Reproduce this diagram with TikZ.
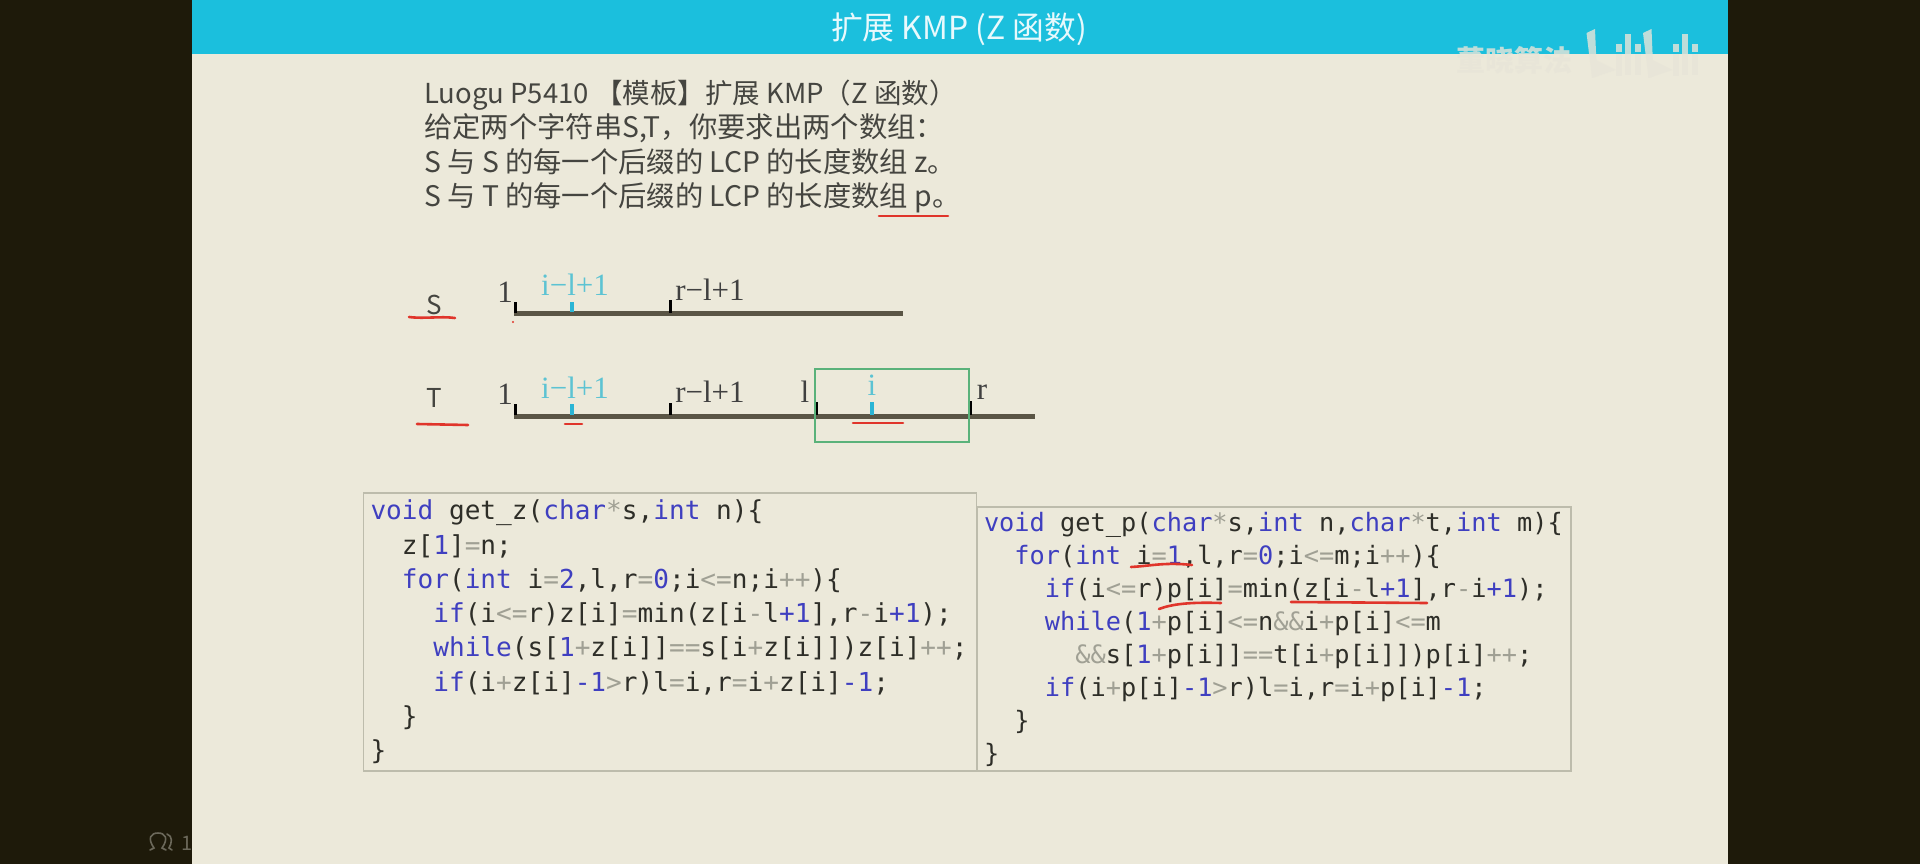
\documentclass[tikz,border=0pt]{standalone}
\usepackage{fontspec}
\setmainfont{Noto Sans CJK SC}
\setmonofont{DejaVu Sans Mono}
\newfontfamily\serifmark{Liberation Serif}
\definecolor{darkback}{HTML}{1E1A0A}
\definecolor{slideback}{HTML}{ECE9DA}
\definecolor{bandblue}{HTML}{1BBFDD}
\definecolor{bodytext}{HTML}{454540}
\definecolor{barcol}{HTML}{5A5545}
\definecolor{markblue}{HTML}{5CC3D3}
\definecolor{tickblue}{HTML}{2BB5D5}
\definecolor{redpen}{HTML}{E0352B}
\definecolor{boxgreen}{HTML}{5AB27A}
\definecolor{boxline}{HTML}{BDBCAC}
\definecolor{kwblue}{HTML}{3F3FC0}
\definecolor{oprgrey}{HTML}{A0A094}
\definecolor{codetext}{HTML}{2E2E28}
\definecolor{logocol}{HTML}{E8E5D8}
\definecolor{iconcol}{HTML}{6B685A}
\newcommand{\kw}[1]{\textcolor{kwblue}{#1}}
\newcommand{\opr}[1]{\textcolor{oprgrey}{#1}}
\newcommand{\ind}[1]{\phantom{#1}}
\newcommand{\lineb}{\fontsize{28.3}{34.2}\selectfont}
\tikzset{
    marktext/.style={font=\serifmark\fontsize{31}{31}\selectfont, text=black!75, inner sep=0pt},
    markcyan/.style={marktext, text=markblue},
    bar/.style={barcol, line width=5pt},
    tick/.style={black, line width=3pt},
    bluetick/.style={tickblue, line width=4.5pt},
    pen/.style={redpen, line width=2.6pt, line cap=round, line join=round},
    codebox/.style={draw=boxline, line width=1.2pt, inner sep=0pt, align=left, text=codetext},
}
\begin{document}
\begin{tikzpicture}[x=1pt,y=-1pt]
    \useasboundingbox (0,0) rectangle (1920,864);
    \fill[darkback] (0,0) rectangle (1920,864);
    % people counter, cut off by the slide
    \draw[iconcol, line width=1.6pt, line cap=round] (150,850) -- (154,848) .. controls (147,838) and (151,833) .. (158,833) .. controls (165,833) and (169,838) .. (162,848) -- (166,850);
    \draw[iconcol, line width=1.6pt, line cap=round] (167,834) .. controls (173,836) and (172,843) .. (169,848) -- (172,850);
    \node (count) at (187,843) [text=iconcol, font=\fontsize{20}{20}\selectfont, inner sep=0pt] {1};
    \fill[slideback] (192,0) rectangle (1728,864);
    \fill[bandblue] (192,0) rectangle (1728,54);
    \node (title) at (959,29.5) [text=white!90!bandblue, font=\fontsize{31.8}{32}\selectfont, inner sep=0pt] {扩展 KMP (Z 函数)};
    % watermark
    \begin{scope}
        \clip (192,0) rectangle (1728,120);
        \node (wmark) at (1514,60) [text=logocol, opacity=.8, font=\bfseries\fontsize{29}{29}\selectfont, inner sep=0pt] {董晓算法};
        \foreach \dx in {0,56.5} {
            \begin{scope}[xshift=\dx pt, logocol, opacity=.8]
                \fill (1586.5,33) -- (1595,29) -- (1597,76) -- (1592,78) -- cycle;
                \fill (1592,58) -- (1616,70) -- (1592,78) -- cycle;
                \fill (1616,44) rectangle (1622,52);
                \fill (1616,54) rectangle (1622,76);
                \fill (1625,34) rectangle (1631,75);
                \fill (1635,44) rectangle (1641,52);
                \fill (1635,54) rectangle (1641,75);
            \end{scope}
        }
    \end{scope}

    \node (statement) at (424,146.5) [anchor=west, align=left, text=bodytext, inner sep=0pt,
        font=\fontsize{27.5}{34.2}\selectfont] {Luogu P5410 【模板】扩展 KMP（Z 函数）\\
        \lineb 给定两个字符串S,T，你要求出两个数组：\\
        \lineb S 与 S 的每一个后缀的 LCP 的长度数组 z。\\
        \lineb S 与 T 的每一个后缀的 LCP 的长度数组 p。};

    \node (labS) at (434,305) [text=bodytext, font=\fontsize{26}{26}\selectfont, inner sep=0pt] {S};
    \node (labT) at (434,398) [text=bodytext, font=\fontsize{26}{26}\selectfont, inner sep=0pt] {T};

    % the two strings
    \draw[bar] (514,313) -- (903,313);
    \draw[bar] (514,416) -- (1035,416);
    \foreach \x/\ytop in {515/302,670/300} \draw[tick] (\x,\ytop) -- (\x,313);
    \draw[bluetick] (572,302) -- (572,312);
    \foreach \x/\ytop in {515/404,670/403,816/402,970/401} \draw[tick] (\x,\ytop) -- (\x,415);
    \foreach \x/\ytop in {572/404,872/402} \draw[bluetick] (\x,\ytop) -- (\x,415);
    \node (sone) at (505,292) [marktext] {1};
    \node (sil) at (575,285) [markcyan] {i−l+1};
    \node (srl) at (710,290) [marktext] {r−l+1};
    \node (tone) at (505,394) [marktext] {1};
    \node (til) at (575,388) [markcyan] {i−l+1};
    \node (trl) at (710,392) [marktext] {r−l+1};
    \node (tl) at (805,392) [marktext] {l};
    \node (ti) at (872,385) [markcyan] {i};
    \node (tr) at (982,392) [marktext] {r};
    \draw[boxgreen, line width=1.8pt] (815,369) rectangle (969,442);

    \node (zcode) at (670,632) [codebox, minimum width=613pt, minimum height=278pt, text width=599pt,
        font=\ttfamily\fontsize{26.1}{34.3}\selectfont] {\kw{void}\ind{x}get\_z(\kw{char}\opr{*}s,\kw{int}\ind{x}n)\{\\
        \ind{xx}z[\kw{1}]\opr{=}n;\\
        \ind{xx}\kw{for}(\kw{int}\ind{x}i\opr{=}\kw{2},l,r\opr{=}\kw{0};i\opr{<=}n;i\opr{++})\{\\
        \ind{xxxx}\kw{if}(i\opr{<=}r)z[i]\opr{=}min(z[i\opr{-}l\kw{+1}],r\opr{-}i\kw{+1});\\
        \ind{xxxx}\kw{while}(s[\kw{1}\opr{+}z[i]]\opr{==}s[i\opr{+}z[i]])z[i]\opr{++};\\
        \ind{xxxx}\kw{if}(i\opr{+}z[i]\kw{-1}\opr{>}r)l\opr{=}i,r\opr{=}i\opr{+}z[i]\kw{-1};\\
        \ind{xx}\}\\
        \}};
    \node (pcode) at (1274,639) [codebox, minimum width=594pt, minimum height=264pt, text width=580pt,
        font=\ttfamily\fontsize{25.3}{33}\selectfont] {\kw{void}\ind{x}get\_p(\kw{char}\opr{*}s,\kw{int}\ind{x}n,\kw{char}\opr{*}t,\kw{int}\ind{x}m)\{\\
        \ind{xx}\kw{for}(\kw{int}\ind{x}i\opr{=}\kw{1},l,r\opr{=}\kw{0};i\opr{<=}m;i\opr{++})\{\\
        \ind{xxxx}\kw{if}(i\opr{<=}r)p[i]\opr{=}min(z[i\opr{-}l\kw{+1}],r\opr{-}i\kw{+1});\\
        \ind{xxxx}\kw{while}(\kw{1}\opr{+}p[i]\opr{<=}n\opr{\&\&}i\opr{+}p[i]\opr{<=}m\\
        \ind{xxxxxx}\opr{\&\&}s[\kw{1}\opr{+}p[i]]\opr{==}t[i\opr{+}p[i]])p[i]\opr{++};\\
        \ind{xxxx}\kw{if}(i\opr{+}p[i]\kw{-1}\opr{>}r)l\opr{=}i,r\opr{=}i\opr{+}p[i]\kw{-1};\\
        \ind{xx}\}\\
        \}};

    % pen strokes
    \draw[pen] (879,216) -- (948,216);
    \draw[pen] (409,317) .. controls (425,319) and (440,316) .. (455,318);
    \fill[redpen] (513,322) circle (1.2pt);
    \draw[pen] (417,424) -- (468,425);
    \draw[pen] (565,424) -- (582,424);
    \draw[pen] (853,423) -- (903,423);
    \draw[pen] (1131,567) .. controls (1150,566) and (1165,562) .. (1192,565);
    \draw[pen] (1159,609) .. controls (1172,604) and (1190,602) .. (1221,603);
    \draw[pen] (1291,602) -- (1427,603);
\end{tikzpicture}
\end{document}
